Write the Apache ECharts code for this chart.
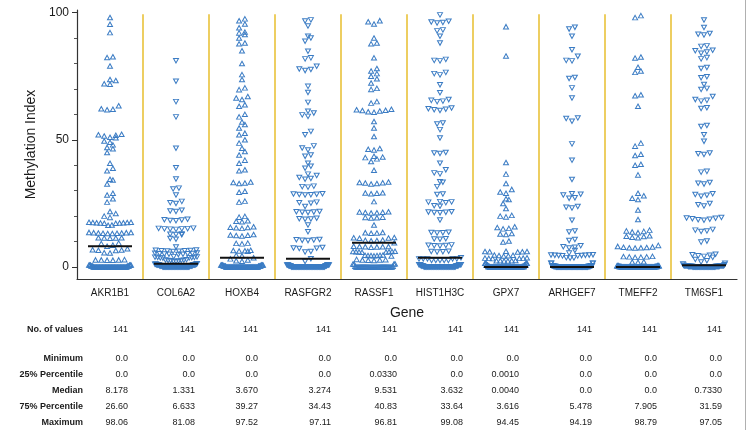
<!DOCTYPE html>
<html>
<head>
<meta charset="utf-8">
<script src="https://cdn.jsdelivr.net/npm/echarts@6/dist/echarts.min.js"></script>
<style>
html,body{margin:0;padding:0;background:#fff}
#chart{width:748px;height:430px}
</style>
</head>
<body>
<div id="chart"></div>
<script>
// genes, in axis order; true = upward triangle marker
var genes = ['AKR1B1', 'COL6A2', 'HOXB4', 'RASFGR2', 'RASSF1', 'HIST1H3C', 'GPX7', 'ARHGEF7', 'TMEFF2', 'TM6SF1'];
var markerUp = [true, false, true, false, true, false, true, false, true, false];

// methylation index values per gene (141 samples each)
var akr1b1 = [
  98.06, 95.4, 92.1, 82.6, 82.3, 79, 73.7, 73.3, 72, 71.8, 63.4, 62.2, 62, 61.8,
  52.2, 52, 51.8, 51.5, 51, 50.8, 49.5, 49, 48, 47, 46.5, 45, 40.8, 38.8, 37.8,
  34.5, 34.2, 32.6, 29, 28.3, 26.8,
  25.5, 21.8, 21, 20, 19.5, 17.6, 17.5, 17.4, 17.3, 17.2, 17.5, 17.3, 17.6, 17.4, 17.2, 16.5, 16.4,
  13.5, 13.4, 13.3, 13.6, 13.2, 13.5, 13.4, 13.3, 13.6, 13.2, 11.4, 11.5, 11.3, 11.4, 11.5, 9.4, 9.2, 8.6,
  8.178, 7.2, 6.8, 6.7, 6.6, 6.5, 5.6, 5.5, 2.8, 2.8, 2.7, 2.9, 2.8, 2.7,
  0.8, 0.8, 0.8, 0.8, 0.8, 0.8, 0.4, 0.4, 0.4, 0.4, 0.4, 0.4,
  0,0,0,0,0,0,0,0,0,0, 0,0,0,0,0,0,0,0,0,0, 0,0,0,0,0,0,0,0,0,0, 0,0,0,0,0,0,0,0,0,0, 0,0,0,0,0
];
var col6a2 = [
  81.08, 73, 65, 59, 46.7, 39, 34.6, 31, 30.7, 28.3, 25.8, 25.3, 25, 22.3, 22, 21.8,
  18.8, 18.5, 18.3, 18.6, 18.2, 15.3, 15.1, 15, 14.9, 15.2, 14.8, 15, 13, 12.9, 12.8, 12.7, 11.2, 10.9, 7.9,
  6.6, 6.4, 6.2, 6.5, 6.3, 6.7, 6.1, 6.4, 5.2, 5.0, 5.4, 5.1, 5.3, 4.9, 5.5, 5.2, 5.0,
  3.8, 3.6, 4.0, 3.7, 3.9, 3.5, 4.1, 3.8, 3.6, 2.6, 2.4, 2.8, 2.5, 2.7, 2.3, 2.9, 2.6, 2.2,
  1.331, 1.1, 1.1, 1.1, 1.1, 1.1,
  0.8, 0.8, 0.8, 0.8, 0.8, 0.8, 0.8, 0.8, 0.8, 0.8, 0.4, 0.4, 0.4, 0.4, 0.4, 0.4, 0.4, 0.4, 0.4, 0.4,
  0,0,0,0,0,0,0,0,0,0, 0,0,0,0,0,0,0,0,0,0, 0,0,0,0,0,0,0,0,0,0, 0,0,0,0,0,0,0,0,0,0, 0,0,0,0,0
];
var hoxb4 = [
  97.52, 96.8, 95.5, 94, 92.3, 92, 91.4, 90, 88, 87.7, 85, 80, 75.6, 73.7, 70.4, 69.7, 67, 66.4,
  65.8, 63.8, 63.2, 60, 59, 57, 56, 54.6, 52.6, 52, 50, 48.7, 46.7, 45.4, 44, 42, 40.8,
  38.2, 37.8, 33.4, 33.2, 33, 32.8, 29.8, 29.4, 25.9, 25.5, 19.9, 19.6, 18.2, 18, 17.8,
  15.8, 15.6, 15.4, 15.5, 15.2, 12.8, 12.6, 12.4, 12.5, 12.2, 9.4, 9.3, 9.1, 6.6, 6.4, 6.3, 6.5, 6.2, 4.6, 4.4,
  3.67, 3.2, 2.8, 2.5, 2.3,
  0.8, 0.8, 0.8, 0.8, 0.8, 0.8, 0.8, 0.8, 0.4, 0.4, 0.4, 0.4, 0.4, 0.4, 0.4, 0.4,
  0,0,0,0,0,0,0,0,0,0, 0,0,0,0,0,0,0,0,0,0, 0,0,0,0,0,0,0,0,0,0, 0,0,0,0,0,0,0,0,0,0, 0,0,0,0,0,0,0,0,0,0
];
var rasfgr2 = [
  97.11, 96.7, 94.7, 90.7, 90, 88.7, 84.8, 82.2, 81.8, 78.9, 77.8, 77.6, 77.2, 71, 68.6, 64.7, 61.2, 60.5,
  59.8, 59.2, 53.3, 52, 47.6, 46.8, 46, 44, 43.5, 40.8, 39.6, 38.8, 36.5, 36, 35.2, 34.8, 34.5,
  31.8, 31.6, 31.4, 28.8, 28.7, 28.6, 28.5, 28.4, 28.3, 25.5, 25.3, 25.1, 23.8, 21.8, 21.7, 21.6, 21.5, 21.4,
  19.2, 19, 18.9, 18.8, 16.5, 13.9, 10.8, 10.7, 10.6, 10.5, 10.4, 7.7, 7.5, 7.4, 7.3, 6.1, 5.9,
  3.274, 2.2,
  0.8, 0.8, 0.8, 0.8, 0.8, 0.8, 0.8, 0.4, 0.4, 0.4, 0.4, 0.4, 0.4, 0.4,
  0,0,0,0,0,0,0,0,0,0, 0,0,0,0,0,0,0,0,0,0, 0,0,0,0,0,0,0,0,0,0, 0,0,0,0,0,0,0,0,0,0, 0,0,0,0,0,0,0,0,0,0, 0,0,0,0,0
];
var rassf1 = [
  96.81, 96.4, 95.5, 90, 88, 87.7, 82.2, 78, 77, 76, 75, 74, 72.3, 70.2, 69.8, 65, 64.4, 62,
  61.8, 61.6, 61.5, 61.3, 61, 60.8, 57.2, 54.6, 51.3, 46.6, 46.3, 46, 43.5, 43.2, 43, 42.5, 41.5,
  38, 33.4, 33.2, 33, 32.8, 32.6, 33.1, 29.2, 29, 28.8, 29.1, 25.7, 21.7, 21.5, 21.3, 21.6, 21.4, 21.2,
  19.6, 19.5, 19.4, 19.3, 16.5, 13.6, 13.5, 13.4, 13.3, 11.6, 11.5, 11.4, 11.3, 10.6, 10.5, 10.4, 10.3,
  9.531, 8.2, 8.1, 8.0, 7.9, 7.8, 8.0, 8.1, 6.2, 6.1, 6.0, 5.9, 5.8, 6.0, 6.1, 5.9,
  4.6, 4.5, 4.4, 4.5, 4.7, 4.3, 4.5, 4.6, 2.9, 2.8, 2.7, 2.8, 3.0, 2.6, 1.3, 1.2, 1.1, 1.2,
  0.3, 0.3, 0.033, 0.033,
  0,0,0,0,0,0,0,0,0,0, 0,0,0,0,0,0,0,0,0,0, 0,0,0,0,0,0,0,0,0,0, 0,0,0
];
var hist1h3c = [
  99.08, 96.6, 96.3, 96.1, 95.9, 93.2, 92.8, 90.7, 88, 81.6, 81.2, 81, 76.5, 76, 75.5, 71.6, 68.5, 65.8,
  65.5, 65.2, 65, 62.5, 62.2, 62, 61.8, 61.5, 56.6, 56.2, 54, 50.7, 45, 44.8, 44.6, 40.8, 38.2,
  37, 36.6, 33.5, 33.3, 31.6, 28.7, 28.5, 25.7, 25.5, 25.3, 25.6, 24.1, 23.9, 21.7, 21.6, 21.5, 21.4, 21.3,
  18.5, 13.7, 13.6, 13.5, 13.4, 11.1, 11, 10.9, 8.7, 8.6, 8.5, 8.4, 8.3, 6.2, 6.1, 6, 5.9,
  3.632, 3.2, 3.2, 3.2, 3.2, 3.2, 2.6, 2.6, 2.6, 2.6, 2.6,
  0.9, 0.9, 0.9, 0.9, 0.9, 0.9, 0.9, 0.4, 0.4, 0.4, 0.4, 0.4, 0.4, 0.4, 0.4,
  0,0,0,0,0,0,0,0,0,0, 0,0,0,0,0,0,0,0,0,0, 0,0,0,0,0,0,0,0,0,0, 0,0,0,0,0,0,0,0,0,0, 0,0,0,0,0
];
var gpx7 = [
  94.45, 82.9, 41.1, 36.5, 32.8, 30.5, 29.5, 29, 26.8, 26.5, 25, 23, 20.3, 20, 19.7, 15.8, 15.5, 15.2,
  15, 13.2, 13, 12.8, 10.2, 9.8, 6.2, 6.1, 6, 5.9, 6.1, 6, 4.6, 4.4, 4.5, 4.7, 4.3,
  3.616, 3.5, 3.4, 3.3, 3.5, 3.4, 2.5, 2.5, 2.4, 2.6, 2.5, 2.4, 1.5, 1.5, 1.5, 1.5, 1.5, 1.5,
  0.8, 0.8, 0.8, 0.8, 0.8, 0.8, 0.8, 0.8, 0.2, 0.2, 0.2, 0.2, 0.2, 0.2, 0.2, 0.2, 0.2,
  0.004,
  0.001, 0.001, 0.001, 0.001, 0.001, 0.001, 0.001, 0.001, 0.001, 0.001,
  0.001, 0.001, 0.001, 0.001, 0.001, 0.001, 0.001, 0.001, 0.001, 0.001,
  0.001, 0.001, 0.001, 0.001, 0.001, 0.001, 0.001, 0.001, 0.001, 0.001,
  0.001, 0.001, 0.001, 0.001, 0.001,
  0,0,0,0,0,0,0,0,0,0, 0,0,0,0,0,0,0,0,0,0, 0,0,0,0,0,0,0,0,0,0, 0,0,0,0,0
];
var arhgef7 = [
  94.19, 93.5, 90.7, 85.4, 82.8, 81.2, 81, 74.5, 74.1, 70.4, 66.4, 58.6, 58.4, 57.3, 48.4, 42, 34.4, 28.8,
  28.6, 28.3, 27.2, 27, 23.8, 23.5, 23.2, 18.4, 14.2, 13.8, 10.8, 10.4, 8.4, 8, 7.8, 7.5, 6.5,
  5.478, 4.8, 4.7, 4.6, 4.5, 4.4, 4.6, 4.5, 4.7, 4.4, 3.6, 3.5, 3.7, 1.5, 1.5, 1.5, 1.5,
  0.5, 0.5, 0.5, 0.5, 0.5, 0.5, 0.5, 0.5, 0.2, 0.2, 0.2, 0.2, 0.2, 0.2, 0.2, 0.2, 0.2, 0.2,
  0,0,0,0,0,0,0,0,0,0, 0,0,0,0,0,0,0,0,0,0, 0,0,0,0,0,0,0,0,0,0, 0,0,0,0,0,0,0,0,0,0,
  0,0,0,0,0,0,0,0,0,0, 0,0,0,0,0,0,0,0,0,0, 0,0,0,0,0,0,0,0,0,0, 0
];
var tmeff2 = [
  98.79, 98, 82.5, 82.1, 78.5, 77, 76.5, 67.7, 67.3, 63.2, 48.7, 47.5, 44.3, 43.8, 40.4, 40, 36.2, 29,
  28, 27, 26.5, 22.4, 18.7, 14.5, 14, 13.8, 13.5, 14.2, 12.3, 12, 11.7, 11.5, 12.1, 8.5, 8.1,
  7.905, 7.6, 7.7, 7.5, 7.8, 7.6, 4.2, 4, 3.8, 4.1, 3.9, 4, 2.1, 2, 1.9,
  0.5, 0.5, 0.5, 0.5, 0.5, 0.5, 0.5, 0.5, 0.5, 0.5, 0.2, 0.2, 0.2, 0.2, 0.2, 0.2, 0.2, 0.2, 0.2, 0.2,
  0,0,0,0,0,0,0,0,0,0, 0,0,0,0,0,0,0,0,0,0, 0,0,0,0,0,0,0,0,0,0, 0,0,0,0,0,0,0,0,0,0,
  0,0,0,0,0,0,0,0,0,0, 0,0,0,0,0,0,0,0,0,0, 0,0,0,0,0,0,0,0,0,0, 0
];
var tm6sf1 = [
  97.05, 94.1, 91.8, 91.5, 91.2, 86.9, 86.7, 85.2, 85, 84.5, 84, 82.3, 81.8, 78.4, 78, 74.8, 74.4, 71.7,
  70.2, 69.8, 67, 65.8, 65.5, 65.2, 62.6, 62.3, 55.6, 55.2, 52, 49.4, 44.8, 44.5, 44.2, 37.6, 37.3,
  33.2, 32.9, 32.6, 28.8, 28.5, 28.2, 27.8, 25, 24.5, 24, 19.5, 19.3, 19, 18.8, 18.6, 19.2, 18.4,
  14.8, 14.5, 14.2, 14, 10.2, 9.8, 5, 4.6, 4.2, 4.8, 3.8, 4.4, 3, 2.5, 2, 1.5, 1.2, 0.9,
  0.733,
  0.5, 0.5, 0.5, 0.5, 0.5, 0.5, 0.5, 0.5, 0.5, 0.5, 0.5, 0.5, 0.5, 0.5, 0.5,
  0.2, 0.2, 0.2, 0.2, 0.2, 0.2, 0.2, 0.2, 0.2, 0.2, 0.2, 0.2, 0.2, 0.2, 0.2,
  0,0,0,0,0,0,0,0,0,0, 0,0,0,0,0,0,0,0,0,0, 0,0,0,0,0,0,0,0,0,0, 0,0,0,0,0,0,0,0,0,0
];
var geneValues = [akr1b1, col6a2, hoxb4, rasfgr2, rassf1, hist1h3c, gpx7, arhgef7, tmeff2, tm6sf1];

// summary table under the plot
var rowNames = ['No. of values', 'Minimum', '25% Percentile', 'Median', '75% Percentile', 'Maximum'];
var countRow = ['141', '141', '141', '141', '141', '141', '141', '141', '141', '141'];
var minRow = ['0.0', '0.0', '0.0', '0.0', '0.0', '0.0', '0.0', '0.0', '0.0', '0.0'];
var q1Row = ['0.0', '0.0', '0.0', '0.0', '0.0330', '0.0', '0.0010', '0.0', '0.0', '0.0'];
var medianRow = ['8.178', '1.331', '3.670', '3.274', '9.531', '3.632', '0.0040', '0.0', '0.0', '0.7330'];
var q3Row = ['26.60', '6.633', '39.27', '34.43', '40.83', '33.64', '3.616', '5.478', '7.905', '31.59'];
var maxRow = ['98.06', '81.08', '97.52', '97.11', '96.81', '99.08', '94.45', '94.19', '98.79', '97.05'];
var tableRows = [countRow, minRow, q1Row, medianRow, q3Row, maxRow];

// y axis ticks
var majorTicks = [0, 50, 100];
var minorTicks = [10, 20, 30, 40, 60, 70, 80, 90];

// layout (pixels / axis units)
var Y_MIN = -4.7, Y_MAX = 101;
var FONT = '"Liberation Sans", Arial, sans-serif';
var BLUE = '#3b7cc4';
var CAT_PX = 66;            // width of one category
var PT_STEP = 5.8 / CAT_PX; // spacing of markers in a row
var ROW_MAX = 42 / CAT_PX;  // max spread of a row
var ROW_H = 1.8;            // values closer than this share a row
var MED_HALF = 22 / CAT_PX;
var tableRowY = [330, 359, 375, 391, 407, 423];
var tableColX = [128, 195, 258, 331, 397, 463, 519, 592, 657, 722];

/* scatter dot plot: points with close values are spread sideways, centre first */
function swarm(vals, ci) {
    var sorted = vals.slice().sort(function (a, b) { return a - b; });
    var out = [];
    var i = 0;
    while (i < sorted.length) {
        var j = i;
        while (j < sorted.length && sorted[j] - sorted[i] < ROW_H) j++;
        var n = j - i;
        var step = n > 1 ? Math.min(PT_STEP, ROW_MAX / (n - 1)) : 0;
        var slots = [];
        for (var m = 0; m < n; m++) slots.push((m - (n - 1) / 2) * step);
        slots.sort(function (a, b) { return Math.abs(a) - Math.abs(b) || a - b; });
        for (var k = 0; k < n; k++) out.push([ci + slots[k], sorted[i + k]]);
        i = j;
    }
    return out;
}

var series = [];

// yellow separators between genes
var sepData = [];
for (var s = 1; s < genes.length; s++) sepData.push([s - 0.5, 0]);
series.push({
    type: 'custom',
    xAxisIndex: 1,
    yAxisIndex: 0,
    silent: true,
    z: 1,
    data: sepData,
    renderItem: function (params, api) {
        var a = api.coord([api.value(0), 99.3]);
        var b = api.coord([api.value(0), Y_MIN]);
        return {
            type: 'line',
            shape: { x1: a[0], y1: a[1], x2: b[0], y2: b[1] },
            style: { stroke: '#e9c23a', lineWidth: 1.6 }
        };
    }
});

geneValues.forEach(function (vals, ci) {
    series.push({
        name: genes[ci],
        type: 'scatter',
        xAxisIndex: 1,
        yAxisIndex: 0,
        silent: true,
        z: 2,
        symbol: 'triangle',
        symbolSize: [5, 4.5],
        symbolRotate: markerUp[ci] ? 0 : 180,
        itemStyle: { color: 'rgba(255,255,255,0)', borderColor: BLUE, borderWidth: 1, opacity: 1 },
        data: swarm(vals, ci)
    });
});

// median bars from the table
series.push({
    type: 'custom',
    xAxisIndex: 1,
    yAxisIndex: 0,
    silent: true,
    z: 3,
    data: medianRow.map(function (m, i) { return [i, parseFloat(m)]; }),
    renderItem: function (params, api) {
        var a = api.coord([api.value(0) - MED_HALF, api.value(1)]);
        var b = api.coord([api.value(0) + MED_HALF, api.value(1)]);
        return {
            type: 'line',
            shape: { x1: a[0], y1: a[1], x2: b[0], y2: b[1] },
            style: { stroke: '#111', lineWidth: 2 }
        };
    }
});

// table as text elements
var graphics = [];
rowNames.forEach(function (name, r) {
    graphics.push({
        type: 'text', silent: true,
        style: { x: 83, y: tableRowY[r], text: name, align: 'right', verticalAlign: 'middle',
                 font: 'bold 9px ' + FONT, fill: '#1a1a1a' }
    });
    tableRows[r].forEach(function (txt, c) {
        graphics.push({
            type: 'text', silent: true,
            style: { x: tableColX[c], y: tableRowY[r], text: txt, align: 'right', verticalAlign: 'middle',
                     font: '9px ' + FONT, fill: '#1a1a1a' }
        });
    });
});
graphics.push({
    type: 'line', silent: true,
    shape: { x1: 745.5, y1: 0, x2: 745.5, y2: 430 },
    style: { stroke: '#b0b0b0', lineWidth: 1 }
});

var chart = echarts.init(document.getElementById('chart'), null, { renderer: 'canvas' });
var option = {
    animation: false,
    backgroundColor: '#fff',
    grid: { left: 77, right: 11, top: 10, bottom: 151 },
    xAxis: [{
        type: 'category',
        data: genes,
        boundaryGap: true,
        name: 'Gene',
        nameLocation: 'middle',
        nameGap: 27,
        nameTextStyle: { fontFamily: FONT, fontSize: 14, color: '#1a1a1a' },
        axisLine: { onZero: false, lineStyle: { color: '#333', width: 1.2 } },
        axisTick: { alignWithLabel: true, length: 4, lineStyle: { color: '#333' } },
        axisLabel: { fontFamily: FONT, fontSize: 10, color: '#1a1a1a', margin: 9, interval: 0 },
        splitLine: { show: false }
    }, {
        type: 'value',
        min: -0.5,
        max: genes.length - 0.5,
        show: false
    }],
    yAxis: [{
        type: 'value',
        min: Y_MIN,
        max: Y_MAX,
        name: 'Methylation Index',
        nameLocation: 'middle',
        nameGap: 34,
        nameTextStyle: { fontFamily: FONT, fontSize: 14, color: '#1a1a1a' },
        axisLine: { show: true, onZero: false, lineStyle: { color: '#333', width: 1.2 } },
        axisTick: { show: true, customValues: majorTicks, length: 5, lineStyle: { color: '#333' } },
        axisLabel: { customValues: majorTicks, fontFamily: FONT, fontSize: 12, color: '#1a1a1a', margin: 8 },
        splitLine: { show: false }
    }, {
        type: 'value',
        min: Y_MIN,
        max: Y_MAX,
        position: 'left',
        axisLine: { show: false, onZero: false },
        axisTick: { show: true, customValues: minorTicks, length: 3, lineStyle: { color: '#555' } },
        axisLabel: { show: false },
        splitLine: { show: false }
    }],
    graphic: graphics,
    series: series
};
chart.setOption(option);
</script>
</body>
</html>
